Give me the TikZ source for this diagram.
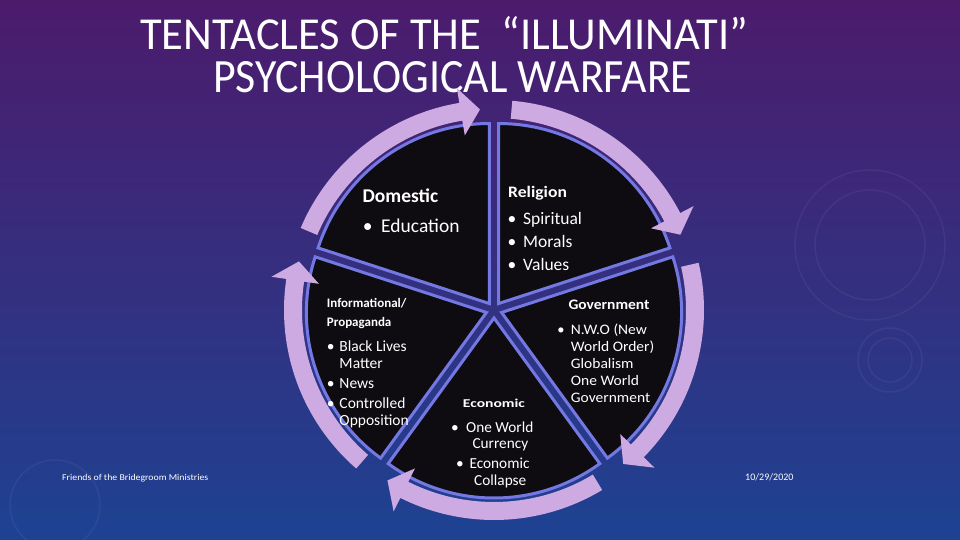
\documentclass[tikz,border=0pt]{standalone}
\usepackage{fontspec}
\usepackage{graphicx}
\setmainfont{Carlito}
\definecolor{bgtop}{RGB}{76,27,108}
\definecolor{bgmid}{RGB}{52,44,126}
\definecolor{bgbot}{RGB}{30,66,146}
\definecolor{segfill}{RGB}{14,12,16}
\definecolor{segline}{RGB}{116,120,226}
\definecolor{arrowcol}{RGB}{206,170,226}
\newcommand{\sxb}[2]{\scalebox{#1}[1]{#2}}
\begin{document}
\begin{tikzpicture}[x=1pt,y=1pt,
  seg/.style={fill=segfill, draw=segline, line width=3pt, line join=miter},
  cyc/.style={fill=arrowcol},
  deco/.style={draw=white, draw opacity=0.05, line width=1.5pt},
  lbl/.style={text=white, inner sep=0pt, anchor=base west},
  bul/.style={text=white, inner sep=0pt, anchor=base},
  ttl/.style={text=white, inner sep=0pt, anchor=base west},
]
% background
\shade[top color=bgtop, middle color=bgmid, bottom color=bgbot] (-494,-230) rectangle (466,310);
\useasboundingbox (-494,-230) rectangle (466,310);
% faint decorative rings
\draw[deco] (376,65) circle[radius=75];
\draw[deco] (376,65) circle[radius=55];
\draw[deco] (396,-50) circle[radius=32];
\draw[deco] (396,-50) circle[radius=22];
\draw[deco] (-439,-195) circle[radius=45];

% title
\node[ttl] (title1) at (-354,260) {\resizebox{608pt}{33pt}{TENTACLES OF THE\ \ “ILLUMINATI”}};
\node[ttl] (title2) at (-281,217) {\resizebox{479pt}{31pt}{PSYCHOLOGICAL WARFARE}};

% pie sectors (exploded)
\foreach \a/\b in {90/162, 18/90, -54/18, -126/-54, 162/234} {
  \pgfmathsetmacro\m{(\a+\b)/2}
  \begin{scope}[shift={(\m:8)}]
    \filldraw[seg] (0,0) -- (\a:180) arc[start angle=\a, end angle=\b, radius=180] -- cycle;
  \end{scope}
}

% cycle arrows
\foreach \B in {162, 90, 18, -54, -126} {
  \pgfmathsetmacro\T{\B-5}
  \pgfmathsetmacro\P{\B-72+4}
  \pgfmathsetmacro\Q{\P+5.5}
  \fill[cyc] (\T:210) arc[start angle=\T, end angle=\Q, radius=210]
     -- (\Q:225) -- (\P:201) -- (\Q:177) -- (\Q:192)
     arc[start angle=\Q, end angle=\T, radius=192] -- cycle;
}

% Domestic
\node[lbl, font=\fontsize{19.5}{23}\selectfont\bfseries] (dom) at (-131.5,107) {Domestic};
\node[bul, font=\fontsize{19.5}{23}\selectfont] (domb1) at (-126.3,77) {•};
\node[lbl, font=\fontsize{19.5}{23}\selectfont] (edu) at (-113,77) {Education};

% Religion
\node[lbl, font=\fontsize{16}{20}\selectfont\bfseries] (rel) at (14,112) {\sxb{1.1}{Religion}};
\node[bul, font=\fontsize{17.5}{21}\selectfont] (relb1) at (18,85) {•};
\node[lbl, font=\fontsize{17.5}{21}\selectfont] (spi) at (29,85) {Spiritual};
\node[bul, font=\fontsize{17.5}{21}\selectfont] (relb2) at (18,62) {•};
\node[lbl, font=\fontsize{17.5}{21}\selectfont] (mor) at (29,62) {Morals};
\node[bul, font=\fontsize{17.5}{21}\selectfont] (relb3) at (18,39) {•};
\node[lbl, font=\fontsize{17.5}{21}\selectfont] (val) at (29,39) {Values};

% Informational / Propaganda
\node[lbl, font=\fontsize{13}{16}\selectfont\bfseries] (inf1) at (-167.3,2) {Informational/};
\node[lbl, font=\fontsize{13}{16}\selectfont\bfseries] (inf2) at (-167.3,-16.7) {Propaganda};
\node[bul, font=\fontsize{15.5}{18}\selectfont] (infb1) at (-163.3,-41.7) {•};
\node[lbl, font=\fontsize{15.5}{18}\selectfont] (blm1) at (-154.7,-41.7) {Black Lives};
\node[lbl, font=\fontsize{15.5}{18}\selectfont] (blm2) at (-154.7,-59) {Matter};
\node[bul, font=\fontsize{15.5}{18}\selectfont] (infb2) at (-163.3,-79) {•};
\node[lbl, font=\fontsize{15.5}{18}\selectfont] (news) at (-154.7,-79) {News};
\node[bul, font=\fontsize{15.5}{18}\selectfont] (infb3) at (-163.3,-99) {•};
\node[lbl, font=\fontsize{15.5}{18}\selectfont] (con1) at (-154.7,-99) {Controlled};
\node[lbl, font=\fontsize{15.5}{18}\selectfont] (con2) at (-154.7,-115.7) {Opposition};

% Government
\node[lbl, font=\fontsize{14.5}{17}\selectfont\bfseries] (gov) at (74.3,0) {\sxb{1.07}{Government}};
\node[bul, font=\fontsize{14.5}{17}\selectfont] (govb1) at (67,-24.3) {•};
\node[lbl, font=\fontsize{14.5}{17}\selectfont] (nwo1) at (76.7,-24.3) {\sxb{1.07}{N.W.O (New}};
\node[lbl, font=\fontsize{14.5}{17}\selectfont] (nwo2) at (76.7,-41.7) {\sxb{1.07}{World Order)}};
\node[lbl, font=\fontsize{14.5}{17}\selectfont] (glob) at (76.7,-58.3) {\sxb{1.07}{Globalism}};
\node[lbl, font=\fontsize{14.5}{17}\selectfont] (owg1) at (76.7,-76) {\sxb{1.07}{One World}};
\node[lbl, font=\fontsize{14.5}{17}\selectfont] (owg2) at (76.7,-92.7) {\sxb{1.07}{Government}};

% Economic
\node[lbl, font=\fontsize{12}{15}\selectfont\bfseries] (eco) at (-31.3,-97.3) {\sxb{1.3}{Economic}};
\node[bul, font=\fontsize{15.3}{18}\selectfont] (ecob1) at (-39,-122.7) {•};
\node[lbl, font=\fontsize{15.3}{18}\selectfont] (owc1) at (-28,-122.7) {One World};
\node[lbl, font=\fontsize{15.3}{18}\selectfont] (owc2) at (-21.7,-138.3) {Currency};
\node[bul, font=\fontsize{15.3}{18}\selectfont] (ecob2) at (-34,-158.3) {•};
\node[lbl, font=\fontsize{15.3}{18}\selectfont] (col1) at (-24.7,-158.3) {Economic};
\node[lbl, font=\fontsize{15.3}{18}\selectfont] (col2) at (-20,-175) {Collapse};

% footer
\node[lbl, font=\fontsize{9}{11}\selectfont] (foot) at (-432,-170) {\sxb{1.09}{Friends of the Bridegroom Ministries}};
\node[lbl, font=\fontsize{10}{12}\selectfont] (date) at (251,-170) {10/29/2020};
\end{tikzpicture}
\end{document}
